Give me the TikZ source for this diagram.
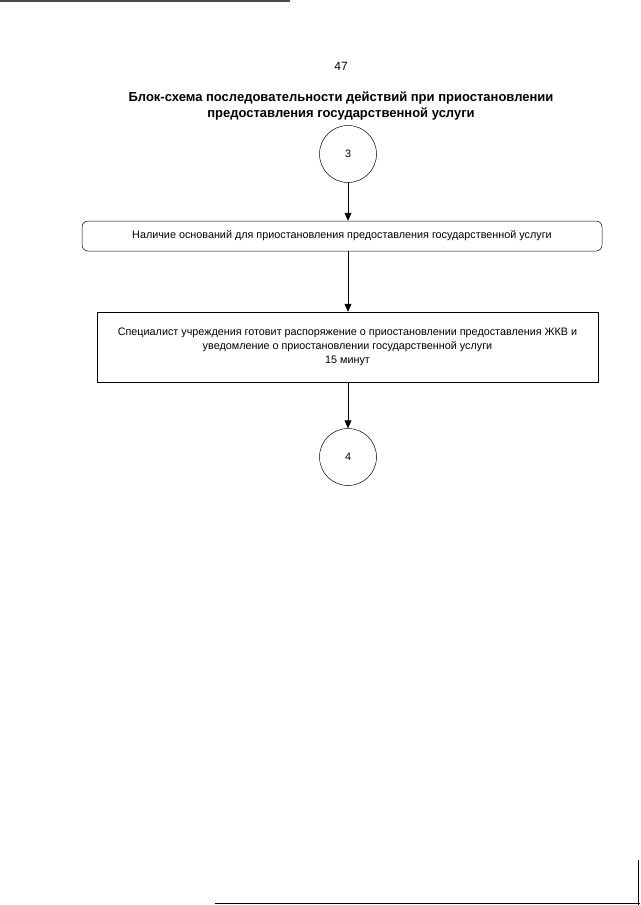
\documentclass[tikz,border=0pt]{standalone}
\usepackage{fontspec}
\setmainfont{Liberation Sans}
\usetikzlibrary{arrows.meta}

\begin{document}
\begin{tikzpicture}[x=1pt, y=-1pt, every node/.style={font=\fontsize{10.8}{14}\selectfont},
  stepcircle/.style={draw, circle, minimum size=57pt, inner sep=0pt, line width=0.5pt},
  flowarrow/.style={-{Triangle[width=7pt,length=8pt]}, line width=0.5pt}]
  \useasboundingbox (0,0) rectangle (640,905);

  % page edges from the scan
  \draw[line width=1.6pt, black!70] (0,1) -- (290,1);
  \draw[line width=1.4pt] (215,903.5) -- (640,903.5);
  \draw[line width=1pt] (638.5,860) -- (638.5,905);

  % page number and heading
  \node (page) at (341,66) {\fontsize{12}{14}\selectfont 47};
  \node[align=center, font=\bfseries\fontsize{13}{16}\selectfont] (title) at (341,106)
    {Блок-схема последовательности действий при приостановлении\\
     предоставления государственной услуги};

  % connectors in
  \node[stepcircle] (c3) at (348,154) {3};

  % boxes
  \node[draw, rounded corners=6pt, line width=0.5pt, minimum width=520pt, minimum height=30pt]
    (grounds) at (342,236) {Наличие оснований для приостановления предоставления государственной услуги};
  \node[draw, line width=0.5pt, minimum width=501pt, minimum height=70pt, align=center]
    (order) at (347.5,347) {Специалист учреждения готовит распоряжение о приостановлении предоставления ЖКВ и\\
     уведомление о приостановлении государственной услуги\\ 15 минут};

  % connector out
  \node[stepcircle] (c4) at (348,457) {4};

  % arrows
  \draw[flowarrow] (c3.south) -- (c3.south |- grounds.north);
  \draw[flowarrow] (c3.south |- grounds.south) -- (c3.south |- order.north);
  \draw[flowarrow] (c3.south |- order.south) -- (c4.north);
\end{tikzpicture}
\end{document}
